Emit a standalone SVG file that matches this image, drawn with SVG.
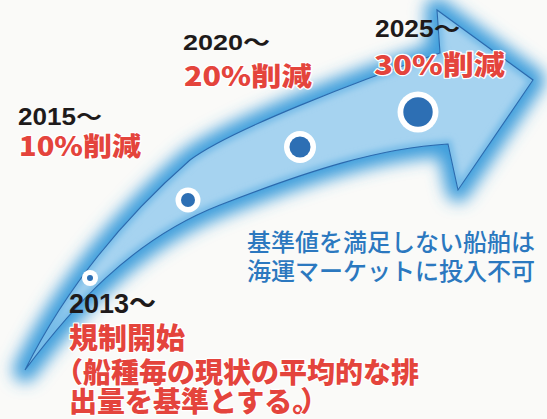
<svg xmlns="http://www.w3.org/2000/svg" width="547" height="419" viewBox="0 0 547 419">
<style>
.yr{font-family:"Liberation Sans","Noto Sans CJK JP",sans-serif;font-weight:bold;fill:#1e1a1a;}
.red{font-family:"Noto Sans CJK JP",sans-serif;font-weight:900;fill:#e4443c;stroke:#fff;stroke-width:2.4;paint-order:stroke;stroke-linejoin:round;}
.blue{font-family:"Noto Sans CJK JP",sans-serif;font-weight:500;fill:#2b78bf;font-size:24px;}
.ring{fill:#fff;}
.dot{fill:#2d6fb4;}
.shape{stroke-linejoin:round;}
</style>
<defs>
<path id="arrowShape" d="M25 370 C70 310 130 240 220 205 C310 170 380 148 448 144 L458 190 L533 80 L437 10 L440 53 C360 80 230 130 190 160 C110 230 60 300 25 370 Z"/>
<filter id="glow" x="-30%" y="-30%" width="160%" height="160%">
<feGaussianBlur stdDeviation="8"/>
</filter>
<filter id="soft" x="-10%" y="-10%" width="120%" height="120%">
<feGaussianBlur stdDeviation="3"/>
</filter>
<clipPath id="arrowClip">
<use href="#arrowShape"/>
</clipPath>
</defs>
<rect width="547" height="419" fill="#fafaf8"/>
<g id="arrow">
<use href="#arrowShape" fill="#3f9fdc" stroke="#3f9fdc" stroke-width="24" stroke-linejoin="round" filter="url(#glow)"/>
<use href="#arrowShape" fill="#a6d3f0"/>
<g clip-path="url(#arrowClip)">
<use href="#arrowShape" fill="none" stroke="#74bbe8" stroke-width="8" filter="url(#soft)"/>
</g>
<use href="#arrowShape" fill="none" stroke="#2b69ad" stroke-width="1.1" stroke-linejoin="miter"/>
</g>
<g id="m2013">
<circle class="ring" cx="90" cy="278" r="8"/>
<circle class="dot" cx="90" cy="278" r="3"/>
<text class="yr" x="69" y="313" font-size="27" textLength="87" lengthAdjust="spacingAndGlyphs">2013～</text>
<text class="red" x="69" y="349" font-size="29">規制開始</text>
<text class="red" x="55" y="383" font-size="28">（船種毎の現状の平均的な排</text>
<text class="red" x="69" y="412" font-size="28">出量を基準とする。<tspan dx="-6">）</tspan></text>
</g>
<g id="m2015">
<circle class="ring" cx="188" cy="200" r="12.5"/>
<circle class="dot" cx="188" cy="200" r="7"/>
<text class="yr" x="18" y="125" font-size="23" textLength="84" lengthAdjust="spacingAndGlyphs">2015～</text>
<text class="red" x="19" y="156" font-size="26" textLength="122" lengthAdjust="spacingAndGlyphs">10%削減</text>
</g>
<g id="m2020">
<circle class="ring" cx="300" cy="147" r="16"/>
<circle class="dot" cx="300" cy="147" r="10.5"/>
<text class="yr" x="183" y="50" font-size="22" textLength="87" lengthAdjust="spacingAndGlyphs">2020～</text>
<text class="red" x="184" y="86" font-size="26" textLength="128" lengthAdjust="spacingAndGlyphs">20%削減</text>
</g>
<g id="m2025">
<circle class="ring" cx="418" cy="112" r="20.5"/>
<circle class="dot" cx="418" cy="112" r="14.7"/>
<text class="yr" x="375" y="37" font-size="23" textLength="85" lengthAdjust="spacingAndGlyphs">2025～</text>
<text class="red" x="374" y="75" font-size="27" textLength="131" lengthAdjust="spacingAndGlyphs">30%削減</text>
</g>
<g id="note">
<text class="blue" x="247" y="251">基準値を満足しない船舶は</text>
<text class="blue" x="247" y="280">海運マーケットに投入不可</text>
</g>
</svg>
